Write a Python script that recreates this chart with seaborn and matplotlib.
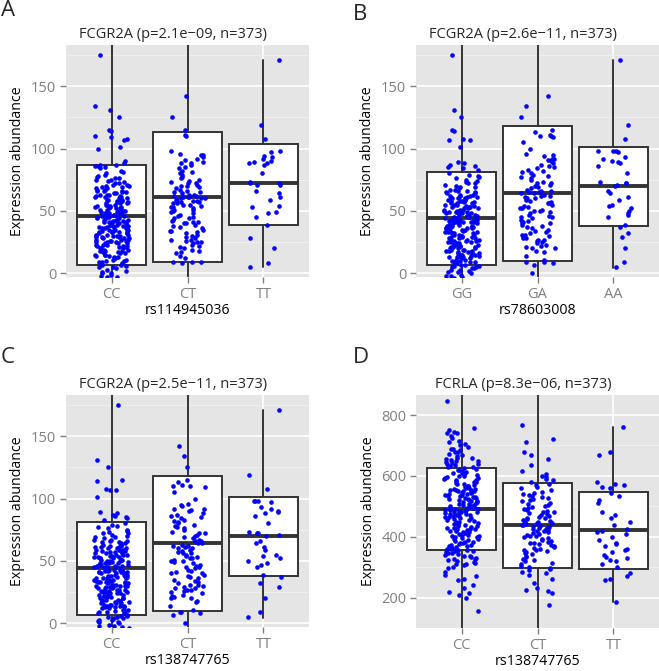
import numpy as np
import pandas as pd
import matplotlib
matplotlib.use('Agg')
import matplotlib.pyplot as plt
import seaborn as sns

# Expression values, one list per genotype group
# Panel A: FCGR2A vs rs114945036
a_labels = ['CC', 'CT', 'TT']
a_cc = [175, 134, 131, 125, 115, 114, 110, 109, 108, 107, 101, 100, 90,
        88, 87, 87, 86, 86, 85, 84, 82, 81, 80,
        79, 78, 77, 76, 76, 75, 75, 74, 73, 72, 72, 71, 71, 70, 70,
        69, 69, 68, 68, 67, 67, 66, 66, 66, 65, 65, 64, 64, 63, 63, 63, 62, 62, 61, 61, 61, 60, 60, 60,
        59, 59, 59, 58, 58, 58, 57, 57, 56, 56, 56, 55, 55, 55, 54, 54, 53, 53, 53, 52, 52, 52, 51, 51, 51, 50, 50, 50,
        49, 49, 49, 48, 48, 48, 48, 47, 47, 47, 46, 46, 46, 46, 45, 45, 45, 44, 44, 44, 43, 43, 43, 43, 42, 42, 42,
        41, 41, 41, 41, 40, 40, 40,
        39, 39, 39, 38, 38, 38, 38, 37, 37, 37, 36, 36, 36, 36, 35, 35, 35, 34, 34, 34, 33, 33, 33, 33, 32, 32, 32,
        31, 31, 31, 30, 30, 30, 30,
        29, 29, 29, 28, 28, 28, 27, 27, 27, 26, 26, 26, 25, 25, 25, 24, 24, 24, 23, 23, 23, 22, 22, 22, 21, 21, 20, 20, 20,
        19, 19, 18, 18, 18, 17, 17, 16, 16, 15, 15, 15, 14, 14, 13, 13, 12, 12, 12, 11, 11, 10, 10,
        9, 9, 8, 7, 7, 6, 5, 5, 4, 3, 2, 1, 0, 0,
        -1, -2, -3, -3]
a_ct = [142, 125, 115, 111, 110,
        98, 96, 95, 95, 93, 92, 91,
        89, 88, 88, 87, 85, 84, 82, 81, 80,
        79, 77, 76, 75, 74, 73, 72, 72, 71, 70, 70,
        69, 68, 67, 66, 65, 65, 64, 63, 63, 62, 62, 61, 61, 61, 60, 60, 60,
        59, 59, 58, 58, 57, 57, 56, 56, 55, 55, 54, 53, 53, 52, 51, 51, 50,
        49, 48, 47, 46, 45, 44, 44, 43, 42, 41, 41, 40, 40,
        39, 38, 37, 36, 35, 34, 34, 33, 32, 31, 30,
        29, 28, 27, 27, 26, 25, 25, 24, 23, 22, 21, 20,
        19, 18, 17, 16, 14, 12,
        9, 9, 9, 8]
a_tt = [171, 119, 108, 98, 97, 94, 93, 92, 90, 89, 88, 88, 87, 80,
        73, 72, 72, 71, 71, 66, 64, 61, 59, 54, 53, 49, 48, 45, 39, 28, 20, 8, 5]
# box statistics as drawn (whiskers of CC/CT run past the panel edges)
a_q1 = [7, 9, 39]
a_med = [46, 61, 72]
a_q3 = [87, 113, 104]
a_lo = [-20, -20, 5]
a_hi = [250, 250, 171]

# Panels B and C: FCGR2A vs rs78603008 / rs138747765 (same samples split the same way)
b_labels = ['GG', 'GA', 'AA']
c_labels = ['CC', 'CT', 'TT']
b_1 = [175, 131, 125, 115, 114, 108, 107, 107, 101, 89, 88, 87, 86, 85, 84, 83,
       80, 79, 78, 77, 76, 75, 74, 73, 72, 72, 71, 70,
       69, 69, 68, 67, 67, 66, 66, 65, 65, 64, 64, 63, 63, 62, 62, 62, 61, 61, 60, 60, 60, 60,
       59, 59, 59, 58, 58, 58, 57, 57, 56, 56, 56, 55, 55, 55, 54, 54, 53, 53, 53, 52, 52, 52, 51, 51, 51, 50, 50, 50,
       49, 49, 49, 48, 48, 48, 48, 47, 47, 47, 46, 46, 46, 46, 45, 45, 45, 45, 44, 44, 44, 43, 43, 43, 43,
       42, 42, 42, 41, 41, 41, 41, 40, 40, 40,
       39, 39, 39, 38, 38, 38, 37, 37, 37, 36, 36, 36, 36, 35, 35, 35, 34, 34, 34, 33, 33, 33, 33,
       32, 32, 32, 31, 31, 31, 30, 30, 30, 30,
       29, 29, 29, 28, 28, 28, 27, 27, 27, 26, 26, 26, 25, 25, 25, 24, 24, 24, 23, 23, 23, 22, 22, 22, 21, 21, 21,
       20, 20, 20,
       19, 19, 19, 18, 18, 18, 17, 17, 17, 16, 16, 16, 15, 15, 15, 14, 14, 14, 13, 13, 13, 12, 12, 11, 11, 10, 10,
       9, 9, 8, 8, 7, 7, 6, 6, 5, 5, 4, 4, 3, 3, 2, 1, 1, 0,
       -1, -2, -2, -3, -4]
b_2 = [142, 134, 125, 115, 113, 111, 110, 110, 109, 105, 100,
       96, 95, 94, 92, 92, 91, 90,
       88, 87, 86, 85, 84, 83, 82, 81, 80,
       79, 78, 77, 76, 75, 73, 72, 72, 71, 70,
       69, 68, 67, 66, 66, 65, 65, 64, 64, 63, 62, 62, 61, 60, 60,
       59, 58, 57, 56, 56, 55, 54, 53, 52, 52, 51, 50, 50,
       49, 48, 47, 46, 45, 45, 44, 43, 42, 41, 40, 40,
       39, 38, 37, 36, 35, 34, 33, 32, 31, 31, 30,
       29, 28, 28, 27, 27, 26, 25, 24, 23, 22, 21, 20, 20,
       18, 17, 14, 11,
       9, 9, 8, 7, 0]
b_3 = [171, 119, 108, 98, 98, 98, 97, 93, 92, 90, 89, 88, 86, 80,
       73, 72, 72, 71, 70, 66, 64, 61, 59, 55, 54, 52, 50, 48, 47, 45,
       39, 37, 32, 29, 20, 9, 5]
b_q1 = [7, 9.5, 38]
b_med = [44, 64, 70]
b_q3 = [81.5, 118, 101.5]
b_lo = [-20, -20, 4.5]
b_hi = [250, 250, 171]

# Panel D: FCRLA vs rs138747765
d_labels = ['CC', 'CT', 'TT']
d_cc = [846, 756, 750, 745, 742, 740, 730, 725, 715, 710, 705, 700,
        695, 690, 688, 685, 680, 678, 672, 670, 665, 660, 658, 655, 652, 650,
        648, 645, 643, 640, 638, 635, 632, 630, 628, 625, 622, 620, 618, 615, 612, 610, 608, 605, 603, 600,
        599, 597, 594, 592, 591, 588, 585, 584, 580, 579, 576, 573, 572, 569, 567, 566, 563, 561, 560, 558,
        557, 555, 554, 553, 552, 550,
        549, 548, 546, 545, 543, 541, 540, 538, 536, 535, 533, 531, 530, 528, 526, 524, 523, 521, 520, 518,
        516, 514, 513, 511, 509, 507, 505, 503, 502, 500,
        499, 497, 496, 495, 494, 492, 491, 490, 489, 488, 487, 485, 484, 483, 481, 480, 479, 477, 476, 474,
        472, 471, 469, 467, 466, 464, 462, 460, 458, 456, 454, 451,
        449, 447, 445, 443, 441, 440, 438, 436, 434, 432, 430, 429, 427, 425, 424, 422, 420, 418, 416, 414,
        412, 410, 409, 407, 405, 404, 402, 400,
        398, 396, 393, 391, 389, 386, 384, 382, 380, 378, 376, 374, 372, 370, 368, 365, 363, 361, 359, 357,
        355, 353, 352, 350,
        348, 345, 343, 340, 338, 336, 333, 331, 328, 326, 323, 320, 318, 315, 312, 309, 306, 302,
        298, 285, 275, 272, 262, 258,
        240, 232, 218, 215, 207, 197, 155]
d_ct = [768, 722, 710, 680, 668, 655, 635, 615, 605, 600,
        595, 590, 585, 580, 575, 570, 565, 560, 555,
        548, 545, 541, 538, 535, 532, 528, 524, 520, 516, 512, 508, 504, 500,
        498, 495, 492, 489, 486, 483, 481, 478, 475, 472, 469, 466, 463, 460, 458, 455, 453, 450,
        448, 446, 444, 442, 440, 438, 436, 434, 432, 430, 428, 426, 424, 422, 420, 418, 415, 412, 410, 407,
        404, 401,
        398, 395, 392, 389, 386, 383, 380, 378, 375, 372, 369, 366, 363, 360, 358, 355, 353, 350,
        347, 342, 338, 333, 328, 324, 320, 315, 310, 305, 301,
        298, 295, 290, 285, 280, 275, 262,
        248, 230, 225, 220, 215, 175]
d_tt = [760, 680, 670, 580, 575, 570, 565, 560, 545, 535, 520, 510,
        480, 470, 460, 450, 440, 425, 420, 415, 410, 400, 390, 380, 375, 370, 360,
        355, 350, 340, 335, 330, 325, 320, 310, 300, 280, 270, 262, 258, 187]
d_q1 = [357, 297, 295]
d_med = [491, 438, 422]
d_q3 = [627, 578, 548]
d_lo = [0, 0, 187]
d_hi = [1000, 1000, 761]

sns.set_theme(style='darkgrid')
plt.rcParams['font.family'] = ['Open Sans', 'DejaVu Sans']
np.random.seed(11)

W, H = 659, 671
fig = plt.figure(figsize=(W / 100, H / 100), dpi=100)


def panel(box, labels, groups, q1, med, q3, lo, hi, ylim, yticks, yminor, title, xlabel):
    # box = (left, top, right, bottom) in pixels
    l, t, r, b = box
    ax = fig.add_axes([l / W, 1 - b / H, (r - l) / W, (b - t) / H])
    ax.set_facecolor('#E5E5E5')
    df = pd.DataFrame({'genotype': np.repeat(labels, [len(g) for g in groups]),
                       'value': np.concatenate(groups)})
    stats = [dict(q1=q1[i], med=med[i], q3=q3[i], whislo=lo[i], whishi=hi[i], fliers=[])
             for i in range(3)]
    ax.bxp(stats, positions=[0, 1, 2], widths=0.9, showcaps=False, patch_artist=True,
           manage_ticks=False,
           boxprops=dict(facecolor='white', edgecolor='#333333', linewidth=1.4),
           medianprops=dict(color='#333333', linewidth=2.8),
           whiskerprops=dict(color='#333333', linewidth=1.4))
    sns.stripplot(data=df, x='genotype', y='value', order=labels, jitter=0.23, size=3.3,
                  color='#0000FF', linewidth=0, ax=ax, zorder=3)
    ax.set_xlim(-0.6, 2.6)
    ax.set_ylim(*ylim)
    ax.set_xticks([0, 1, 2])
    ax.set_xticklabels(labels)
    ax.set_yticks(yticks)
    ax.set_yticks(yminor, minor=True)
    ax.set_axisbelow(True)
    ax.grid(which='major', color='white', linewidth=1.2)
    ax.grid(which='minor', axis='y', color='#F2F2F2', linewidth=0.6)
    ax.xaxis.grid(True)
    for s in ax.spines.values():
        s.set_visible(False)
    ax.tick_params(which='major', length=4.5, width=1, color='#7F7F7F', labelcolor='#7F7F7F',
                   labelsize=10.5, bottom=True, left=True, pad=2.5)
    ax.tick_params(which='minor', length=0)
    ax.set_xlabel(xlabel, fontsize=10.2, color='black', labelpad=1)
    ax.set_ylabel('Expression abundance', fontsize=10.2, color='black', labelpad=4)
    # title sits a little left of the panel centre, as in the original layout
    ax.set_title(title, fontsize=10.5, pad=5, x=0.44)
    return ax


yt = [0, 50, 100, 150]
ym = [25, 75, 125, 175]
panel((66, 45, 309, 277), a_labels, [a_cc, a_ct, a_tt], a_q1, a_med, a_q3, a_lo, a_hi,
      (-3, 183), yt, ym, 'FCGR2A (p=2.1e\u221209, n=373)', 'rs114945036')
panel((416, 45, 659, 277), b_labels, [b_1, b_2, b_3], b_q1, b_med, b_q3, b_lo, b_hi,
      (-3, 183), yt, ym, 'FCGR2A (p=2.6e\u221211, n=373)', 'rs78603008')
panel((66, 395, 309, 627), c_labels, [b_1, b_2, b_3], b_q1, b_med, b_q3, b_lo, b_hi,
      (-3, 183), yt, ym, 'FCGR2A (p=2.5e\u221211, n=373)', 'rs138747765')
panel((416, 395, 659, 628), d_labels, [d_cc, d_ct, d_tt], d_q1, d_med, d_q3, d_lo, d_hi,
      (100, 866), [200, 400, 600, 800], [100, 300, 500, 700], 'FCRLA (p=8.3e\u221206, n=373)',
      'rs138747765')

# panel letters
for letter, x, y in [('A', 1, 0), ('B', 353, 4), ('C', 1, 347), ('D', 353, 347)]:
    fig.text(x / W, 1 - y / H, letter, fontsize=16, va='top', ha='left')

fig.savefig('out.png', dpi=100)
